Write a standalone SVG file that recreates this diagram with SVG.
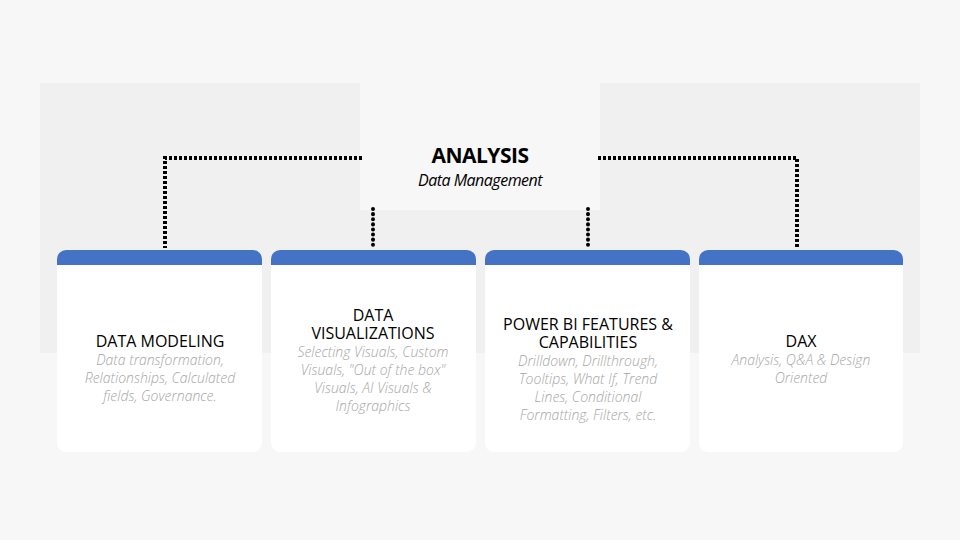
<svg xmlns="http://www.w3.org/2000/svg" width="960" height="540" viewBox="0 0 960 540">
<style>
.dot{fill:none;stroke:#000;stroke-width:4;stroke-dasharray:3 2}
.rnd{fill:none;stroke:#000;stroke-width:4;stroke-dasharray:0.1 5;stroke-linecap:round}
.card{fill:#fff}
.hdr{fill:#4472c4}
.t{font-family:"Open Sans","Liberation Sans",sans-serif;font-size:16px;fill:#000;text-anchor:middle}
.d{font-family:"Open Sans","Liberation Sans",sans-serif;font-size:14px;font-style:italic;font-weight:300;fill:#a6a6a6;text-anchor:middle}
</style>
<rect width="960" height="540" fill="#f7f7f7"/>
<rect x="40" y="83" width="880" height="270" fill="#f0f0f0"/>
<rect x="360" y="0" width="240" height="210" fill="#f7f7f7"/>
<g id="title">
<text x="480" y="163" font-family="Open Sans,Liberation Sans,sans-serif" font-size="21" font-weight="bold" text-anchor="middle" letter-spacing="-0.5">ANALYSIS</text>
<text x="480" y="186" font-family="Open Sans,Liberation Sans,sans-serif" font-size="16" font-style="italic" text-anchor="middle" letter-spacing="-0.5">Data Management</text>
</g>
<g id="connectors">
<path class="dot" d="M362 158 H165 V248"/>
<path class="dot" d="M598 158 H797 V248"/>
<path class="rnd" d="M373 209 V248"/>
<path class="rnd" d="M588 209 V248"/>
</g>
<g id="card1">
<rect class="card" x="57" y="250" width="205" height="202" rx="9"/>
<path class="hdr" d="M57 265 V259 a9 9 0 0 1 9 -9 H253 a9 9 0 0 1 9 9 V265 Z"/>
<text class="t" x="160" y="347">DATA MODELING</text>
<text class="d" x="160" y="365">Data transformation,</text>
<text class="d" x="160" y="383">Relationships, Calculated</text>
<text class="d" x="160" y="401">fields, Governance.</text>
</g>
<g id="card2">
<rect class="card" x="271" y="250" width="205" height="202" rx="9"/>
<path class="hdr" d="M271 265 V259 a9 9 0 0 1 9 -9 H467 a9 9 0 0 1 9 9 V265 Z"/>
<text class="t" x="373" y="321">DATA</text>
<text class="t" x="373" y="339">VISUALIZATIONS</text>
<text class="d" x="373" y="357">Selecting Visuals, Custom</text>
<text class="d" x="373" y="375">Visuals, "Out of the box"</text>
<text class="d" x="373" y="393">Visuals, AI Visuals &amp;</text>
<text class="d" x="373" y="411">Infographics</text>
</g>
<g id="card3">
<rect class="card" x="485" y="250" width="205" height="202" rx="9"/>
<path class="hdr" d="M485 265 V259 a9 9 0 0 1 9 -9 H681 a9 9 0 0 1 9 9 V265 Z"/>
<text class="t" x="588" y="330">POWER BI FEATURES &amp;</text>
<text class="t" x="588" y="348">CAPABILITIES</text>
<text class="d" x="588" y="366">Drilldown, Drillthrough,</text>
<text class="d" x="588" y="384">Tooltips, What If, Trend</text>
<text class="d" x="588" y="402">Lines, Conditional</text>
<text class="d" x="588" y="420">Formatting, Filters, etc.</text>
</g>
<g id="card4">
<rect class="card" x="699" y="250" width="204" height="202" rx="9"/>
<path class="hdr" d="M699 265 V259 a9 9 0 0 1 9 -9 H894 a9 9 0 0 1 9 9 V265 Z"/>
<text class="t" x="801" y="347">DAX</text>
<text class="d" x="801" y="365">Analysis, Q&amp;A &amp; Design</text>
<text class="d" x="801" y="383">Oriented</text>
</g>
</svg>
